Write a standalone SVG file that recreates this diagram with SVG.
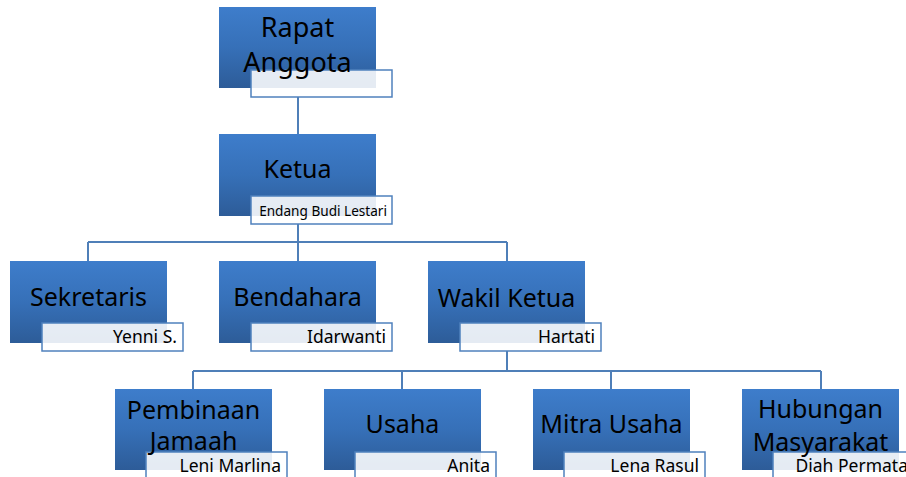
<svg xmlns="http://www.w3.org/2000/svg" width="906" height="477" viewBox="0 0 906 477">
<defs>
<linearGradient id="g" x1="0" y1="0" x2="0" y2="1">
<stop offset="0" stop-color="#3E7DCB"/>
<stop offset="0.5" stop-color="#3670B8"/>
<stop offset="1" stop-color="#2D5C98"/>
</linearGradient>
<style>
.box{fill:url(#g);}
.lab{fill:#ffffff;fill-opacity:0.88;stroke:#4F81BD;stroke-width:1.5;}
.t{font-family:"Noto Sans","Open Sans",sans-serif;font-size:25px;fill:#000;text-anchor:middle;}
.big{font-size:27px;}
.l{font-family:"Noto Sans","Open Sans",sans-serif;font-size:17.5px;fill:#000;text-anchor:end;}
.sm{font-size:13.6px;}
.c{fill:none;stroke:#4F7FB8;stroke-width:2;}
</style>
</defs>
<rect width="906" height="477" fill="#fff"/>
<g id="connectors">
<path class="c" d="M298 97V134"/>
<path class="c" d="M298 224V242M88 242H507M88 242V261M298 242V261M507 242V261"/>
<path class="c" d="M507 351V371M193 371H821M193 371V389M402 371V389M611 371V389M821 371V389"/>
</g>
<g id="rapat">
<rect class="box" x="219" y="7" width="157" height="81"/>
<rect class="lab" x="251" y="70" width="141" height="27"/>
<text class="t big" x="297.5" y="37">Rapat</text>
<text class="t big" x="297.5" y="72">Anggota</text>
</g>
<g id="ketua">
<rect class="box" x="219" y="134" width="157" height="82"/>
<rect class="lab" x="251" y="196" width="141" height="28"/>
<text class="t" x="297.5" y="178">Ketua</text>
<text class="l sm" x="387" y="216">Endang Budi Lestari</text>
</g>
<g id="sekretaris">
<rect class="box" x="10" y="261" width="157" height="82"/>
<rect class="lab" x="42" y="323" width="141" height="28"/>
<text class="t" x="88.5" y="306">Sekretaris</text>
<text class="l" x="177" y="343">Yenni S.</text>
</g>
<g id="bendahara">
<rect class="box" x="219" y="261" width="157" height="82"/>
<rect class="lab" x="251" y="323" width="141" height="28"/>
<text class="t" x="297.5" y="306">Bendahara</text>
<text class="l" x="386" y="343">Idarwanti</text>
</g>
<g id="wakil">
<rect class="box" x="428" y="261" width="157" height="82"/>
<rect class="lab" x="460" y="323" width="141" height="28"/>
<text class="t" x="506.5" y="307">Wakil Ketua</text>
<text class="l" x="595" y="343">Hartati</text>
</g>
<g id="pembinaan">
<rect class="box" x="115" y="389" width="157" height="81"/>
<rect class="lab" x="146" y="452" width="141" height="30"/>
<text class="t" x="193.5" y="419">Pembinaan</text>
<text class="t" x="193.5" y="450">Jamaah</text>
<text class="l" x="281" y="472">Leni Marlina</text>
</g>
<g id="usaha">
<rect class="box" x="324" y="389" width="157" height="81"/>
<rect class="lab" x="355" y="452" width="141" height="30"/>
<text class="t" x="402.5" y="433">Usaha</text>
<text class="l" x="490" y="472">Anita</text>
</g>
<g id="mitra">
<rect class="box" x="533" y="389" width="157" height="81"/>
<rect class="lab" x="564" y="452" width="141" height="30"/>
<text class="t" x="611.5" y="433">Mitra Usaha</text>
<text class="l" x="699" y="472">Lena Rasul</text>
</g>
<g id="hubungan">
<rect class="box" x="742" y="389" width="157" height="81"/>
<rect class="lab" x="773" y="452" width="141" height="30"/>
<text class="t" x="820.5" y="418">Hubungan</text>
<text class="t" x="820.5" y="451">Masyarakat</text>
<text class="l" x="908" y="472">Diah Permata</text>
</g>
</svg>
